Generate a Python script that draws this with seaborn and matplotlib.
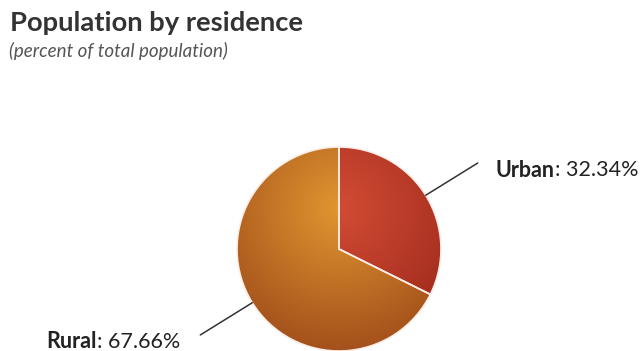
import numpy as np
import matplotlib
matplotlib.use("Agg")
import matplotlib.pyplot as plt
import seaborn as sns

# =============================================
# DATA
# =============================================
categories = ["Urban", "Rural"]
shares = [32.34, 67.66]

TITLE = "Population by residence"
SUBTITLE = "(percent of total population)"

# gradient colours per slice (inner, outer)
inner_colors = ["#d24c34", "#e1962f"]
outer_colors = ["#a02a1c", "#a4501c"]

# =============================================
# LAYOUT (pixels, y measured from the top)
# =============================================
W, H, DPI = 641, 351, 100
CX, CY_TOP, R = 339, 249, 102
CY = H - CY_TOP

sns.set_theme(style="white")
plt.rcParams["font.family"] = ["Lato", "DejaVu Sans"]

fig = plt.figure(figsize=(W / DPI, H / DPI), dpi=DPI)
ax = fig.add_axes([0, 0, 1, 1])

wedges, _ = ax.pie(shares, colors=inner_colors, startangle=90, counterclock=False,
                   center=(CX, CY), radius=R,
                   wedgeprops=dict(edgecolor="#fbeee8", linewidth=1.2))
ax.set_xlim(0, W)
ax.set_ylim(0, H)
ax.set_aspect("equal")
ax.axis("off")

# radial gradient, lighter near the upper middle of the pie
xs = np.arange(W) + 0.5
ys = np.arange(H) + 0.5
gx, gy = np.meshgrid(xs, ys)
dist = np.hypot(gx - CX, gy - (CY + 0.4 * R))
t = np.clip(dist / (1.4 * R), 0, 1)[..., None]

for wedge, c_in, c_out in zip(wedges, inner_colors, outer_colors):
    a = np.array(matplotlib.colors.to_rgb(c_in))
    b = np.array(matplotlib.colors.to_rgb(c_out))
    img = a * (1 - t) + b * t
    img = np.concatenate([img, np.ones_like(t)], axis=2)
    im = ax.imshow(img, origin="lower", extent=(0, W, 0, H), zorder=1,
                   interpolation="bilinear")
    im.set_clip_path(wedge)
    wedge.set_facecolor("none")
    wedge.set_zorder(2)

# labels with connectors
fig.canvas.draw()
renderer = fig.canvas.get_renderer()
LABEL_FS = 15.5
for wedge, name, val in zip(wedges, categories, shares):
    mid = np.deg2rad((wedge.theta1 + wedge.theta2) / 2)
    c, s = np.cos(mid), np.sin(mid)
    x0, y0 = CX + R * c, CY + R * s
    x1, y1 = CX + 1.6 * R * c, CY + 1.6 * R * s
    ax.plot([x0, x1], [y0, y1], color="#333333", lw=1.1, zorder=3)
    ty = y1 - 7
    rest = f": {val:.2f}%"
    if c > 0:
        tx = x1 + 18
        tb = ax.text(tx, ty, name, fontsize=LABEL_FS, fontweight="bold",
                     color="#222222", ha="left", va="center")
        w = tb.get_window_extent(renderer).width
        ax.text(tx + w, ty, rest, fontsize=LABEL_FS, color="#222222",
                ha="left", va="center")
    else:
        tx = x1 - 20
        tr = ax.text(tx, ty, rest, fontsize=LABEL_FS, color="#222222",
                     ha="right", va="center")
        w = tr.get_window_extent(renderer).width
        ax.text(tx - w, ty, name, fontsize=LABEL_FS, fontweight="bold",
                color="#222222", ha="right", va="center")

# title and subtitle
ax.text(10, H - 31, TITLE, fontsize=19.7, fontweight="bold", color="#333333",
        ha="left", va="baseline")
ax.text(9, H - 57, SUBTITLE, fontsize=13.5, fontstyle="italic", color="#555555",
        ha="left", va="baseline")

fig.savefig("out.png", dpi=DPI, facecolor="white")
